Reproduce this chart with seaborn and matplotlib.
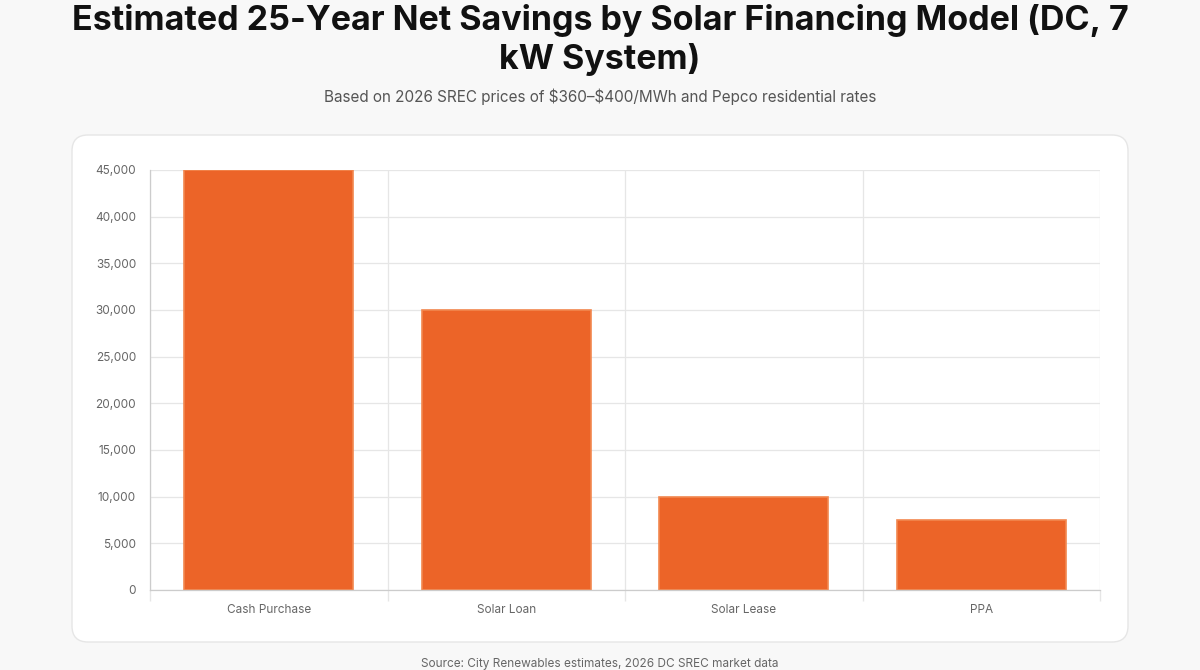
import matplotlib
matplotlib.use("Agg")
import matplotlib.pyplot as plt
import seaborn as sns
import pandas as pd
from matplotlib.patches import FancyBboxPatch
from matplotlib.ticker import FuncFormatter, FixedLocator

# data
models = ["Cash Purchase", "Solar Loan", "Solar Lease", "PPA"]
net_savings = [45000, 30000, 10000, 7500]

title = "Estimated 25-Year Net Savings by Solar Financing Model (DC, 7\nkW System)"
subtitle = "Based on 2026 SREC prices of \\$360\u2013\\$400/MWh and Pepco residential rates"
source = "Source: City Renewables estimates, 2026 DC SREC market data"

df = pd.DataFrame({"model": models, "savings": net_savings})

sns.set_theme(style="white")
plt.rcParams["font.family"] = ["Inter", "DejaVu Sans"]

W, H = 1200, 670
fig = plt.figure(figsize=(W / 100, H / 100), dpi=100)
fig.patch.set_facecolor("#f8f8f8")

# background layer in pixel coordinates for the card
bg = fig.add_axes([0, 0, 1, 1], zorder=0)
bg.set_xlim(0, W)
bg.set_ylim(H, 0)
bg.axis("off")
bg.add_patch(FancyBboxPatch((72, 135), 1056, 507,
                            boxstyle="round,pad=0,rounding_size=16",
                            facecolor="white", edgecolor="#e6e6e6", linewidth=1.0))

fig.text(0.5, 1 - 40 / H, title, ha="center", va="center", fontsize=24.5,
         fontweight="bold", color="#111111", linespacing=1.2)
fig.text(0.5, 1 - 97 / H, subtitle, ha="center", va="center", fontsize=11,
         color="#555555")
fig.text(0.5, 1 - 664 / H, source, ha="center", va="center", fontsize=8.5,
         color="#666666")

ax = fig.add_axes([150 / W, (H - 590) / H, 950 / W, 420 / H], zorder=1)
ax.set_facecolor("none")
sns.barplot(data=df, x="model", y="savings", color="#EC6428", width=0.71,
            edgecolor="#F2874F", linewidth=1.2, saturation=1, ax=ax)

ax.set_ylim(0, 45000)
ax.set_xlim(-0.5, len(models) - 0.5)
ax.set_yticks(range(0, 45001, 5000))
ax.yaxis.set_major_formatter(FuncFormatter(lambda v, p: f"{int(v):,}"))
ax.xaxis.set_minor_locator(FixedLocator([i - 0.5 for i in range(len(models) + 1)]))

ax.grid(True, axis="y", which="major", color="#e6e6e6", linewidth=0.9)
ax.grid(True, axis="x", which="minor", color="#e6e6e6", linewidth=0.9)
ax.set_axisbelow(True)

ax.tick_params(axis="y", which="major", length=7, color="#e6e6e6", labelsize=8.5,
               labelcolor="#666666", pad=3)
ax.tick_params(axis="x", which="major", length=0, labelsize=8.5,
               labelcolor="#666666", pad=10)
ax.tick_params(axis="x", which="minor", length=8, color="#e6e6e6", bottom=True)

for side in ["top", "right"]:
    ax.spines[side].set_visible(False)
for side in ["left", "bottom"]:
    ax.spines[side].set_color("#cccccc")
    ax.spines[side].set_linewidth(0.9)

ax.set_xlabel("")
ax.set_ylabel("")

fig.savefig("out.png", dpi=100, facecolor=fig.get_facecolor())
